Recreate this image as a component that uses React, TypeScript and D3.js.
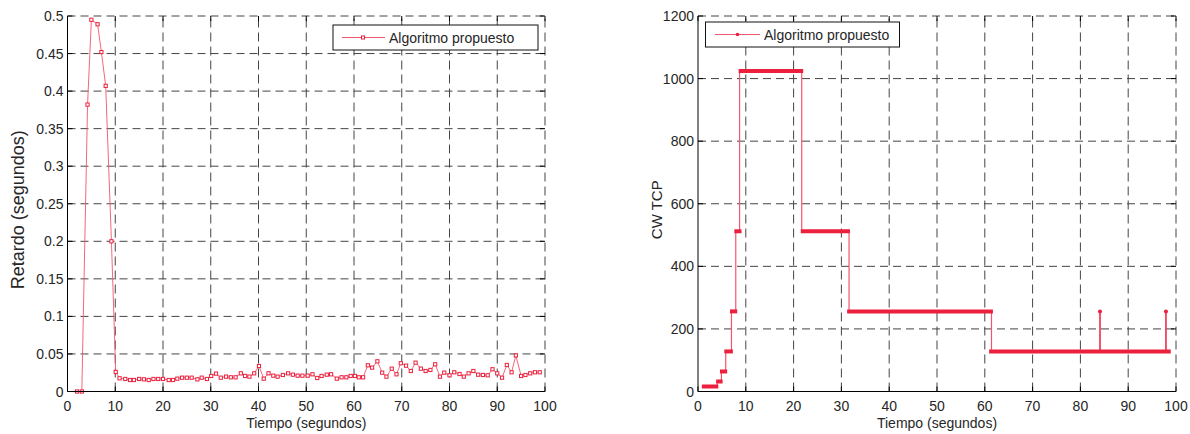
import React from "react";
import * as d3 from "d3";

// ---------- Data ----------
const xTicks = [0, 10, 20, 30, 40, 50, 60, 70, 80, 90, 100];
const delayTicks = [0, 0.05, 0.1, 0.15, 0.2, 0.25, 0.3, 0.35, 0.4, 0.45, 0.5];
const cwTicks = [0, 200, 400, 600, 800, 1000, 1200];

const delayTime = [
  2, 3, 4.2, 5.0, 6.3, 7.1, 8.0, 9.2, 10.1, 10.9, 12.1, 13.1, 13.9, 15.0, 16.0, 17.0, 18, 19, 20,
  21.2, 22.1, 23, 24, 25, 26, 27.2, 28.1, 29.2, 30.1, 31.1, 32.1, 33.2, 34.2, 35.2, 36.3, 37.2,
  38.1, 39.1, 40.1, 41.1, 42.1, 43.1, 44.0, 45.1, 46.2, 47.2, 48.2, 49.2, 50.3, 51.3, 52.3, 53.2,
  54.3, 55.2, 56.4, 57.4, 58.4, 59.3, 60.2, 61.0, 61.9, 62.9, 63.8, 64.9, 65.9, 66.8, 67.9, 68.9,
  69.8, 70.9, 71.9, 72.9, 74.0, 75.0, 76.0, 77.0, 78.0, 78.9, 80.0, 81.0, 82.1, 83.0, 84.0, 85.0,
  86.0, 87.0, 88.0, 89.0, 90.0, 91.0, 92.0, 93.0, 93.9, 95.0, 95.9, 96.9, 97.9, 98.9,
];
const delayValue = [
  0, 0, 0.382, 0.495, 0.489, 0.452, 0.407, 0.2, 0.026, 0.0176, 0.0167, 0.0153, 0.0153, 0.0167,
  0.0162, 0.0153, 0.0167, 0.0167, 0.0167, 0.0153, 0.0153, 0.0171, 0.0184, 0.0184, 0.0184, 0.0162,
  0.0184, 0.0167, 0.0207, 0.0238, 0.0184, 0.0198, 0.0189, 0.0189, 0.0242, 0.0207, 0.0198, 0.0242,
  0.034, 0.0171, 0.0242, 0.0211, 0.0198, 0.022, 0.0242, 0.0224, 0.0211, 0.0211, 0.0211, 0.0229,
  0.018, 0.0207, 0.0224, 0.0229, 0.0171, 0.0189, 0.0189, 0.0207, 0.0207, 0.0189, 0.0189, 0.0349,
  0.0318, 0.0402, 0.0251, 0.0198, 0.0304, 0.0229, 0.0376, 0.0344, 0.0273, 0.0384, 0.0304, 0.0273,
  0.0287, 0.0362, 0.0198, 0.0251, 0.0216, 0.0256, 0.0233, 0.0198, 0.0242, 0.0273, 0.0224, 0.022,
  0.0216, 0.0296, 0.0242, 0.0184, 0.0353, 0.0256, 0.048, 0.0207, 0.022, 0.0242, 0.0256, 0.0256,
];

// CW TCP: constant-window periods (start, end, window)
const cwSegStart = [0.8, 3.8, 4.6, 5.5, 6.7, 7.6, 8.5, 21.5, 31.2, 60.9];
const cwSegEnd = [4.25, 5.15, 6.1, 7.3, 8.2, 9.1, 22.0, 31.8, 61.7, 98.9];
const cwSegValue = [16, 32, 64, 128, 256, 512, 1024, 512, 256, 128];
// times of the window changes between consecutive periods
const cwStepTime = [4.0, 4.9, 5.8, 7.0, 7.9, 8.7, 21.7, 31.6, 61.4];
// short peaks
const cwPeakTime = [84.1, 97.9];
const cwPeakValue = [256, 256];
const cwPeakBase = [128, 128];

const legendLabel = "Algoritmo propuesto";

// ---------- Style ----------
const RED = "#ec1f3d";
const PINK = "#f2566c";
const FONT = "'Liberation Sans', Arial, Helvetica, sans-serif";
const TXT = "#262626";

type PanelProps = {
  x: d3.ScaleLinear<number, number>;
  y: d3.ScaleLinear<number, number>;
  yTicks: number[];
  yFmt: (v: number) => string;
  yLabel: string;
  yLabelX: number;
  yLabelSize: number;
  children?: React.ReactNode;
};

function Panel({ x, y, yTicks, yFmt, yLabel, yLabelX, yLabelSize, children }: PanelProps) {
  const [x0, x1] = x.range();
  const [y0, y1] = y.range(); // y0 bottom, y1 top
  const tl = 5;
  const cy = (y0 + y1) / 2 + 6;
  return (
    <g fontFamily={FONT}>
      {/* grid */}
      {xTicks.slice(1).map((t) => (
        <line key={"gx" + t} x1={x(t)} x2={x(t)} y1={y0} y2={y1} stroke="#444" strokeWidth={1} strokeDasharray="9,5" />
      ))}
      {yTicks.slice(1).map((t) => (
        <line key={"gy" + t} x1={x0} x2={x1} y1={y(t)} y2={y(t)} stroke="#444" strokeWidth={1} strokeDasharray="8,5" />
      ))}
      {children}
      {/* axes */}
      <line x1={x0} x2={x0} y1={y0} y2={y1} stroke="#000" strokeWidth={1} />
      <line x1={x0} x2={x1} y1={y0} y2={y0} stroke="#000" strokeWidth={1} />
      {xTicks.map((t) => (
        <g key={"tx" + t}>
          <line x1={x(t)} x2={x(t)} y1={y0} y2={y0 - tl} stroke="#000" />
          <line x1={x(t)} x2={x(t)} y1={y1} y2={y1 + tl} stroke="#000" />
          <text x={x(t)} y={y0 + 19} textAnchor="middle" fontSize={14} fill={TXT}>
            {t}
          </text>
        </g>
      ))}
      {yTicks.map((t) => (
        <g key={"ty" + t}>
          <line x1={x0} x2={x0 + tl} y1={y(t)} y2={y(t)} stroke="#000" />
          <line x1={x1} x2={x1 - tl} y1={y(t)} y2={y(t)} stroke="#000" />
          <text x={x0 - 4} y={y(t) + 5} textAnchor="end" fontSize={14} fill={TXT}>
            {yFmt(t)}
          </text>
        </g>
      ))}
      <text x={(x0 + x1) / 2} y={y0 + 36} textAnchor="middle" fontSize={14} fill={TXT}>
        Tiempo (segundos)
      </text>
      <text
        transform={`translate(${yLabelX},${cy}) rotate(-90)`}
        textAnchor="middle"
        fontSize={yLabelSize}
        fill={TXT}
      >
        {yLabel}
      </text>
    </g>
  );
}

export default function App() {
  // left panel scales
  const xL = d3.scaleLinear().domain([0, 100]).range([67.5, 545]);
  const yL = d3.scaleLinear().domain([0, 0.5]).range([391.5, 16]);
  // right panel scales
  const xR = d3.scaleLinear().domain([0, 100]).range([698, 1176]);
  const yR = d3.scaleLinear().domain([0, 1200]).range([391.5, 16]);

  const delayPts: [number, number][] = delayTime.map((t, i) => [t, delayValue[i]]);
  const delayLine = d3
    .line<[number, number]>()
    .x((d) => xL(d[0]))
    .y((d) => yL(d[1]));

  const fmtDelay = (v: number) => (v === 0 ? "0" : d3.format("~g")(+v.toFixed(2)));

  return (
    <svg
      width={1190}
      height={434}
      style={{ position: "absolute", left: 0, top: 0, background: "#fff" }}
      xmlns="http://www.w3.org/2000/svg"
    >
      <rect x={0} y={0} width={1190} height={434} fill="#fff" />
      {/* LEFT */}
      <Panel
        x={xL}
        y={yL}
        yTicks={delayTicks}
        yFmt={fmtDelay}
        yLabel="Retardo (segundos)"
        yLabelX={24}
        yLabelSize={18}
      >
        <path d={delayLine(delayPts) || ""} fill="none" stroke={PINK} strokeWidth={0.9} />
        {delayPts.map((d, i) => (
          <rect
            key={"m" + i}
            x={xL(d[0]) - 1.6}
            y={yL(d[1]) - 1.6}
            width={3.2}
            height={3.2}
            fill="#fff"
            stroke={RED}
            strokeWidth={1}
          />
        ))}
      </Panel>
      {/* left legend */}
      <g fontFamily={FONT}>
        <rect x={333} y={25} width={205} height={25} fill="#fff" stroke="#111" strokeWidth={1} />
        <line x1={342} x2={385} y1={37.5} y2={37.5} stroke={PINK} strokeWidth={1} />
        <rect x={361.5} y={36} width={3} height={3} fill="#fff" stroke={RED} strokeWidth={1} />
        <text x={389} y={42.5} fontSize={14} fill={TXT}>
          {legendLabel}
        </text>
      </g>

      {/* RIGHT */}
      <Panel
        x={xR}
        y={yR}
        yTicks={cwTicks}
        yFmt={(v) => String(v)}
        yLabel="CW TCP"
        yLabelX={662}
        yLabelSize={15}
      >
        {cwStepTime.map((t, i) => (
          <line
            key={"st" + i}
            x1={xR(t)}
            x2={xR(t)}
            y1={yR(cwSegValue[i])}
            y2={yR(cwSegValue[i + 1])}
            stroke={PINK}
            strokeWidth={1.2}
          />
        ))}
        {cwPeakTime.map((t, i) => (
          <g key={"pk" + i}>
            <line x1={xR(t)} x2={xR(t)} y1={yR(cwPeakBase[i])} y2={yR(cwPeakValue[i])} stroke={RED} strokeWidth={1.5} />
            <circle cx={xR(t)} cy={yR(cwPeakValue[i])} r={2} fill={RED} />
          </g>
        ))}
        {cwSegValue.map((v, i) => (
          <line
            key={"sg" + i}
            x1={xR(cwSegStart[i])}
            x2={xR(cwSegEnd[i])}
            y1={yR(v)}
            y2={yR(v)}
            stroke={RED}
            strokeWidth={4}
          />
        ))}
      </Panel>
      {/* right legend */}
      <g fontFamily={FONT}>
        <rect x={705.5} y={22} width={194} height={25} fill="#fff" stroke="#111" strokeWidth={1} />
        <line x1={715} x2={760} y1={34.5} y2={34.5} stroke={PINK} strokeWidth={1} />
        <circle cx={737.5} cy={34.5} r={1.8} fill={RED} />
        <text x={764} y={39.5} fontSize={14} fill={TXT}>
          {legendLabel}
        </text>
      </g>
    </svg>
  );
}
